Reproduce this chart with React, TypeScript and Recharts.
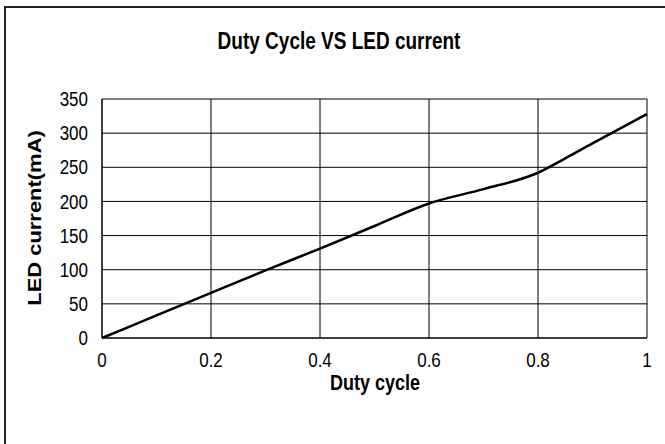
import React from "react";
import { LineChart, Line, XAxis, YAxis, CartesianGrid } from "recharts";

const dutyCycle = [0, 0.1, 0.2, 0.3, 0.4, 0.5, 0.6, 0.7, 0.8, 0.85, 0.9, 1.0];
const ledCurrent = [0, 33, 66, 99, 131, 164, 197, 218, 242, 263, 285, 328];
const xTicks = [0, 0.2, 0.4, 0.6, 0.8, 1];
const yTicks = [0, 50, 100, 150, 200, 250, 300, 350];
const title = "Duty Cycle VS LED current";
const xTitle = "Duty cycle";
const yTitle = "LED current(mA)";

const data = dutyCycle.map((d, i) => ({ duty: d, current: ledCurrent[i] }));

const FONT = "'Liberation Sans', Arial, sans-serif";
const STRETCH = 1.22;

const XTick = (props: any) => {
  const { x, y, payload } = props;
  return (
    <text transform={`translate(${x},${y}) scale(1,${STRETCH})`} textAnchor="middle" dominantBaseline="central" fontSize={17} fontFamily={FONT} fill="#000">
      {payload.value}
    </text>
  );
};

const YTick = (props: any) => {
  const { x, y, payload } = props;
  return (
    <text transform={`translate(${x},${y}) scale(1,${STRETCH})`} textAnchor="end" dominantBaseline="central" fontSize={17} fontFamily={FONT} fill="#000">
      {payload.value}
    </text>
  );
};

export default function App() {
  return (
    <div style={{ position: "absolute", left: 0, top: 0, width: 665, height: 444, background: "#fff", overflow: "hidden", fontFamily: FONT }}>
      <div style={{ position: "absolute", left: 4, top: 6, width: 700, height: 480, borderTop: "2px solid #222", borderLeft: "2px solid #222" }} />
      <div style={{ position: "absolute", left: 0, top: 0 }}>
        <LineChart width={665} height={444} data={data} margin={{ top: 99, right: 18, bottom: 46, left: 42 }}>
          <CartesianGrid stroke="#000" strokeWidth={1} horizontalValues={yTicks} verticalValues={xTicks} />
          <XAxis
            dataKey="duty"
            type="number"
            domain={[0, 1]}
            ticks={xTicks}
            height={60}
            tickLine={false}
            tickSize={0}
            tickMargin={22}
            axisLine={{ stroke: "#000" }}
            tick={<XTick />}
          />
          <YAxis
            type="number"
            domain={[0, 350]}
            ticks={yTicks}
            width={60}
            tickLine={false}
            tickSize={0}
            tickMargin={14}
            axisLine={{ stroke: "#000" }}
            tick={<YTick />}
          />
          <Line dataKey="current" type="monotone" stroke="#000" strokeWidth={2.5} dot={false} isAnimationActive={false} />
        </LineChart>
      </div>
      <svg width={665} height={444} style={{ position: "absolute", left: 0, top: 0, pointerEvents: "none" }}>
        <text transform={`translate(339,41) scale(1,${STRETCH})`} textAnchor="middle" dominantBaseline="central" fontSize={19} fontWeight="bold" fontFamily={FONT} fill="#000">
          {title}
        </text>
        <text transform={`translate(375,382) scale(1,${STRETCH})`} textAnchor="middle" dominantBaseline="central" fontSize={18} fontWeight="bold" fontFamily={FONT} fill="#000">
          {xTitle}
        </text>
        <text transform={`translate(35,218) scale(1,${STRETCH}) rotate(-90)`} textAnchor="middle" dominantBaseline="central" fontSize={18} fontWeight="bold" fontFamily={FONT} fill="#000">
          {yTitle}
        </text>
      </svg>
    </div>
  );
}
